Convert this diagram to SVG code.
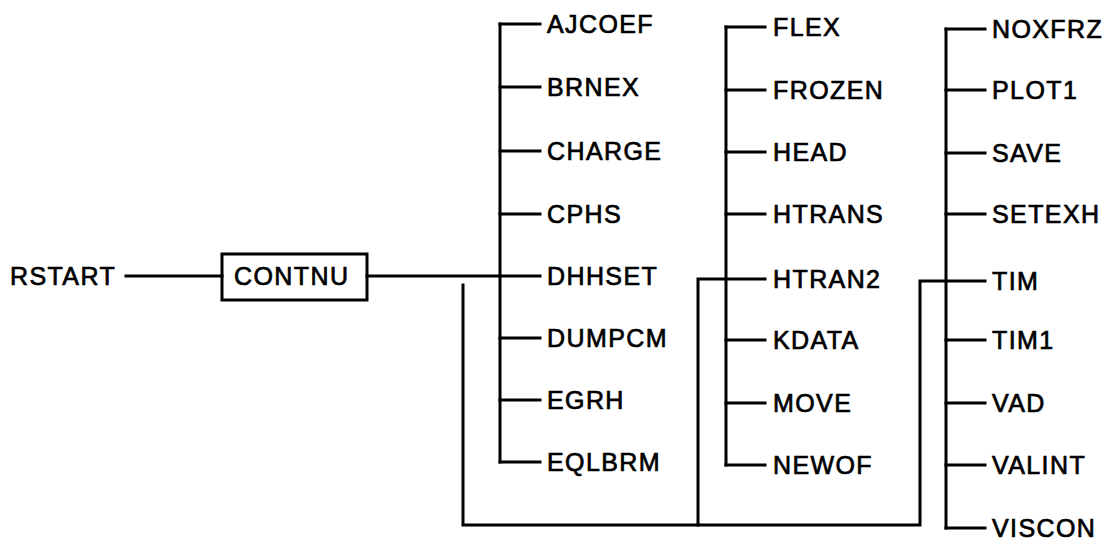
<svg xmlns="http://www.w3.org/2000/svg" width="1113" height="543" viewBox="0 0 1113 543">
  <style>
    .ln { stroke: #000; stroke-width: 3; fill: none; stroke-linecap: square; }
    .lbl { font-family: "Liberation Sans", Arial, sans-serif; font-size: 25px; letter-spacing: 1.4px; fill: #000; stroke: #000; stroke-width: 0.7; }
  </style>
  <rect width="1113" height="543" fill="#fff"/>

  <g id="connectors" class="ln">
    <!-- RSTART to CONTNU -->
    <line x1="126" y1="276" x2="222" y2="276"/>
    <!-- CONTNU to first column -->
    <line x1="367" y1="276" x2="540" y2="276"/>
    <!-- return path linking the three columns -->
    <polyline points="463,285 463,525 920,525 920,281 985,281"/>
    <polyline points="698,525 698,279 765,279"/>
    <!-- column 1 trunk and branches -->
    <line x1="500" y1="24" x2="500" y2="462"/>
    <line x1="500" y1="24" x2="540" y2="24"/>
    <line x1="500" y1="87" x2="540" y2="87"/>
    <line x1="500" y1="151" x2="540" y2="151"/>
    <line x1="500" y1="214" x2="540" y2="214"/>
    <line x1="500" y1="338" x2="540" y2="338"/>
    <line x1="500" y1="400" x2="540" y2="400"/>
    <line x1="500" y1="462" x2="540" y2="462"/>
    <!-- column 2 trunk and branches -->
    <line x1="726" y1="27" x2="726" y2="465"/>
    <line x1="726" y1="27" x2="765" y2="27"/>
    <line x1="726" y1="90" x2="765" y2="90"/>
    <line x1="726" y1="152" x2="765" y2="152"/>
    <line x1="726" y1="214" x2="765" y2="214"/>
    <line x1="726" y1="340" x2="765" y2="340"/>
    <line x1="726" y1="403" x2="765" y2="403"/>
    <line x1="726" y1="465" x2="765" y2="465"/>
    <!-- column 3 trunk and branches -->
    <line x1="946" y1="29" x2="946" y2="528"/>
    <line x1="946" y1="29" x2="985" y2="29"/>
    <line x1="946" y1="90" x2="985" y2="90"/>
    <line x1="946" y1="153" x2="985" y2="153"/>
    <line x1="946" y1="214" x2="985" y2="214"/>
    <line x1="946" y1="340" x2="985" y2="340"/>
    <line x1="946" y1="403" x2="985" y2="403"/>
    <line x1="946" y1="465" x2="985" y2="465"/>
    <line x1="946" y1="528" x2="985" y2="528"/>
  </g>

  <g id="rstart"><text class="lbl" x="10" y="285">RSTART</text></g>
  <g id="contnu">
    <rect class="ln" x="222" y="254" width="145" height="46"/>
    <text class="lbl" x="234" y="285">CONTNU</text>
  </g>

  <g id="col1">
    <g id="ajcoef"><text class="lbl" x="547" y="33">AJCOEF</text></g>
    <g id="brnex"><text class="lbl" x="547" y="96">BRNEX</text></g>
    <g id="charge"><text class="lbl" x="547" y="160">CHARGE</text></g>
    <g id="cphs"><text class="lbl" x="547" y="223">CPHS</text></g>
    <g id="dhhset"><text class="lbl" x="547" y="285">DHHSET</text></g>
    <g id="dumpcm"><text class="lbl" x="547" y="347">DUMPCM</text></g>
    <g id="egrh"><text class="lbl" x="547" y="409">EGRH</text></g>
    <g id="eqlbrm"><text class="lbl" x="547" y="471">EQLBRM</text></g>
  </g>

  <g id="col2">
    <g id="flex"><text class="lbl" x="773" y="36">FLEX</text></g>
    <g id="frozen"><text class="lbl" x="773" y="99">FROZEN</text></g>
    <g id="head"><text class="lbl" x="773" y="161">HEAD</text></g>
    <g id="htrans"><text class="lbl" x="773" y="223">HTRANS</text></g>
    <g id="htran2"><text class="lbl" x="773" y="288">HTRAN2</text></g>
    <g id="kdata"><text class="lbl" x="773" y="349">KDATA</text></g>
    <g id="move"><text class="lbl" x="773" y="412">MOVE</text></g>
    <g id="newof"><text class="lbl" x="773" y="474">NEWOF</text></g>
  </g>

  <g id="col3">
    <g id="noxfrz"><text class="lbl" x="992" y="38">NOXFRZ</text></g>
    <g id="plot1"><text class="lbl" x="992" y="99">PLOT1</text></g>
    <g id="save"><text class="lbl" x="992" y="162">SAVE</text></g>
    <g id="setexh"><text class="lbl" x="992" y="223">SETEXH</text></g>
    <g id="tim"><text class="lbl" x="992" y="290">TIM</text></g>
    <g id="tim1"><text class="lbl" x="992" y="349">TIM1</text></g>
    <g id="vad"><text class="lbl" x="992" y="412">VAD</text></g>
    <g id="valint"><text class="lbl" x="992" y="474">VALINT</text></g>
    <g id="viscon"><text class="lbl" x="992" y="537">VISCON</text></g>
  </g>
</svg>
